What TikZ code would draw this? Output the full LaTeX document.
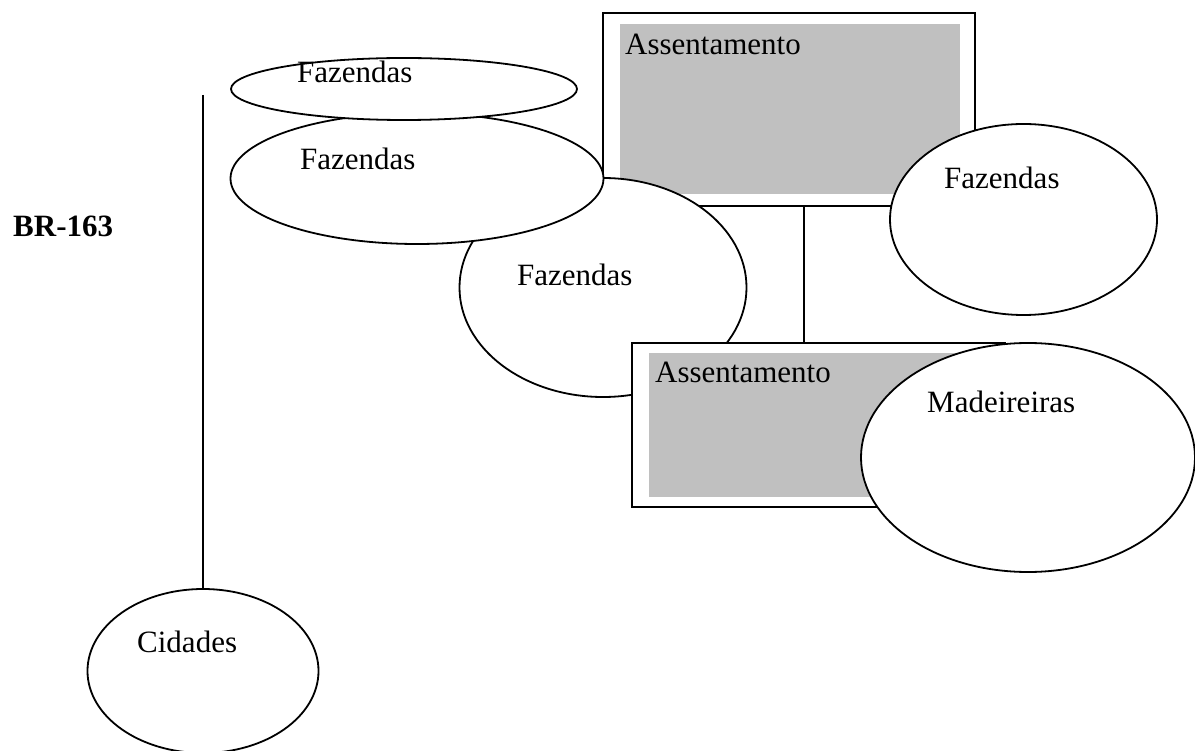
\documentclass[tikz,border=0pt]{standalone}
\usepackage{fontspec}
\setmainfont{Liberation Serif}
\usetikzlibrary{shapes.geometric}
\definecolor{shade}{RGB}{192,192,192}
\begin{document}
\begin{tikzpicture}[x=1pt,y=-1pt,
  ell/.style={ellipse,draw,fill=white,line width=1.8pt,inner sep=0pt},
  boxo/.style={rectangle,draw,fill=white,line width=1.8pt,inner sep=0pt},
  boxi/.style={rectangle,fill=shade,inner sep=0pt},
  lbl/.style={anchor=base west,inner sep=0pt,font=\fontsize{31}{36}\selectfont},
  conn/.style={line width=1.8pt}]
\useasboundingbox (0,0) rectangle (1195,751);
% road and city
\coordinate (roadtop) at (203,95);
\node[ell,minimum width=231pt,minimum height=164pt] (cid) at (203,671) {};
\node[lbl] (cidt) at (137,652) {Cidades};
\draw[conn] (roadtop) -- (cid.north);
\node[lbl,font=\fontsize{31}{36}\selectfont\bfseries] (br) at (13,237) {BR-163};
% first settlement
\node[boxo,minimum width=372pt,minimum height=193pt] (box1) at (789,109.5) {};
\node[boxi,minimum width=340pt,minimum height=170pt] (box1i) at (790,109) {};
\node[lbl] (box1t) at (625,55) {Assentamento};
% farms
\node[ell,minimum width=287pt,minimum height=219pt] (faz3) at (603,287.5) {};
\node[lbl] (faz3t) at (517,286) {Fazendas};
\node[ell,minimum width=373pt,minimum height=131pt] (faz2) at (417,178.5) {};
\node[lbl] (faz2t) at (300,170) {Fazendas};
\node[ell,minimum width=346pt,minimum height=62pt] (faz1) at (404,89) {};
\node[lbl] (faz1t) at (297,83) {Fazendas};
\node[ell,minimum width=267pt,minimum height=191pt] (faz4) at (1023.5,219.5) {};
\node[lbl] (faz4t) at (944,189) {Fazendas};
% second settlement on top of farms
\node[boxo,minimum width=373pt,minimum height=164pt] (box2) at (818.5,425) {};
\node[boxi,minimum width=339pt,minimum height=144pt] (box2i) at (818.5,425) {};
\node[lbl] (box2t) at (655,383) {Assentamento};
% connector between settlements
\coordinate (cx) at (804,0);
\draw[conn] (box1.south -| cx) -- (box2.north -| cx);
% sawmills
\node[ell,minimum width=334pt,minimum height=229pt] (mad) at (1028,457.5) {};
\node[lbl] (madt) at (927,413) {Madeireiras};
\end{tikzpicture}
\end{document}
